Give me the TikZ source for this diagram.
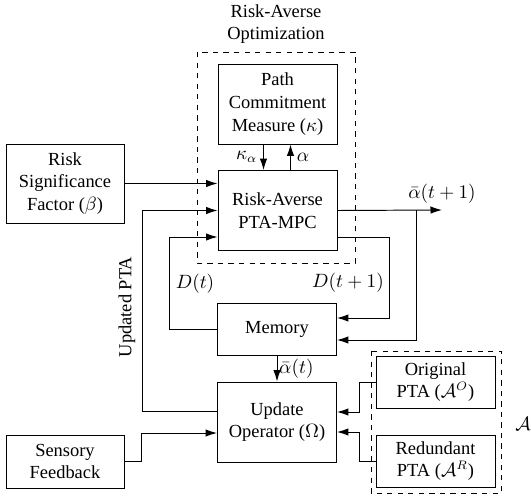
\documentclass[tikz,border=0pt]{standalone}
\usepackage{amsmath}
\usepackage{fontspec}
\setmainfont{Liberation Serif}
\usepackage{tikz}
\usetikzlibrary{arrows.meta, positioning, calc}

\begin{document}
\begin{tikzpicture}[x=0.02cm, y=-0.02cm, >={Latex[length=2.3mm, width=1.5mm]},
    line width=0.55pt, font=\fontsize{10.5}{13}\selectfont,
    block/.style={draw, align=center, minimum width=2.38cm, minimum height=1.6cm, inner sep=1pt},
    flatblock/.style={block, minimum height=1.04cm},
    group/.style={draw, dashed}]
          \useasboundingbox (0,0) rectangle (531,500);

          % optimization part
          \draw[group] (197,52) rectangle (355,263);
          \node[align=center] (optlabel) at (276,24) {Risk-Averse\\Optimization};
          \node[block] (PCM) at (277.5,104) {Path\\Commitment\\Measure ($\kappa$)};
          \node[block] (MPC) at (277.5,210.5) {Risk-Averse\\PTA-MPC};

          % inputs and memory
          \node[block, minimum width=2.36cm, minimum height=1.58cm] (RSF) at (65,183.5) {Risk\\Significance\\Factor ($\beta$)};
          \node[flatblock] (MEM) at (277,329) {Memory};
          \node[block] (UPD) at (277,422) {Update\\Operator ($\Omega$)};
          \node[flatblock, minimum width=2.36cm, minimum height=1.06cm] (SENS) at (65,461.5) {Sensory\\Feedback};

          % PTA set
          \draw[group] (371,351) rectangle (501,493);
          \node[flatblock] (ORIG) at (435.5,382) {Original\\PTA ($\mathcal{A}^O$)};
          \node[flatblock] (RED) at (435.5,461) {Redundant\\PTA ($\mathcal{A}^R$)};
          \node[anchor=west, inner sep=0pt] (AT) at (515,423) {$\mathcal{A}^T$};

          \coordinate (out) at (442,210);
          \coordinate (tap) at (416,210);

          \draw[->] ([xshift=-0.28cm]PCM.south) -- ([xshift=-0.28cm]MPC.north) node[midway, left] {$\kappa_\alpha$};
          \draw[->] ([xshift=0.26cm]MPC.north) -- ([xshift=0.26cm]PCM.south) node[midway, right] {$\alpha$};
          \draw[->] (RSF.east) -- (RSF.east -| MPC.west);
          \draw[->] ([yshift=0.22cm]UPD.west) -- ++(-75,0) |- (MPC.west);
          \draw[->] (MEM.west) -- ++(-48,0) |- ([yshift=-0.53cm]MPC.west);
          \node (Dt) at (195,284) {$D(t)$};
          \node[rotate=90] (upd label) at (127,307) {Updated PTA};

          \draw[->] (MPC.east) -- (out) node[above] {$\bar{\alpha}(t+1)$};
          \draw[->] (tap) |- ([yshift=-0.22cm]MEM.east);
          \draw[->] ([yshift=-0.53cm]MPC.east) -- ++(52,0) |- ([yshift=0.22cm]MEM.east);
          \node (Dt1) at (348,283) {$D(t+1)$};

          \draw[->] (MEM.south) -- (UPD.north) node[midway, right, inner sep=1pt] {$\bar{\alpha}(t)$};
          \draw[->] (ORIG.west) -- ++(-16,0) |- ([yshift=0.2cm]UPD.east);
          \draw[->] (RED.west) -- ++(-16,0) |- ([yshift=-0.2cm]UPD.east);
          \draw[->] (SENS.east) -- ++(17,0) |- ([yshift=-0.22cm]UPD.west);
        \end{tikzpicture}
\end{document}
